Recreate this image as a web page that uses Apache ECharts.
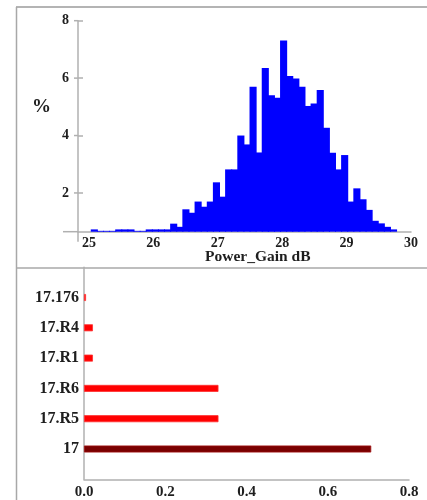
<!DOCTYPE html>
<html><head><meta charset="utf-8">
<script src="https://cdn.jsdelivr.net/npm/echarts@6/dist/echarts.min.js"></script>
<style>html,body{margin:0;padding:0;background:#fff}#c{width:427px;height:500px}</style>
</head><body><div id="c"></div>
<script>
// ---- Data ----
// Histogram (Power_Gain dB), 50 bins
const histBinStart = 25.036;
const histBinWidth = 0.0948;
const histValues = [0.73,0.68,0.68,0.68,0.73,0.73,0.73,0.68,0.68,0.73,0.73,0.73,0.73,
  0.93,0.82,1.43,1.31,1.70,1.52,1.70,2.37,1.87,
  2.82,2.82,4.00,3.69,5.70,3.41,6.35,5.40,5.32,
  7.31,6.07,5.99,5.70,5.03,5.12,5.59,4.27,3.40,
  2.82,3.32,1.70,2.16,1.78,1.41,1.03,0.94,0.82,0.73];
const histXTicks = [25,26,27,28,29,30];
const histYTicks = [2,4,6,8];
// Horizontal bar chart
const barCategories = ['17','17.R5','17.R6','17.R1','17.R4','17.176'];
const barValues = [0.707,0.331,0.331,0.022,0.022,0.005];
const barXTicks = [0.0,0.2,0.4,0.6,0.8];

// ---- Chart ----
const FONT = '"Liberation Serif", "DejaVu Serif", serif';
const TXT = '#1e1e1e';
const AX = '#b0b0b0';
const xMin = 24.83, xMax = 30, yMin = 0.65, yMax = 8;

const histData = histValues.map((v,i)=>[histBinStart+i*histBinWidth, histBinStart+(i+1)*histBinWidth, v]);

const chart = echarts.init(document.getElementById('c'), null, {renderer:'canvas'});
const option = {
  animation:false,
  backgroundColor:'#fff',
  grid:[
    {left:78, right:16, top:20.7, bottom:268.3},
    {left:84, right:18, top:267.2, bottom:20.7}
  ],
  xAxis:[
    {type:'value', gridIndex:0, min:xMin, max:xMax,
     splitLine:{show:false},
     axisLine:{show:true, lineStyle:{color:AX, width:1.5}},
     axisTick:{show:false},
     axisLabel:{customValues:histXTicks, formatter:v=>String(Math.round(v)), margin:5,
       fontFamily:FONT, fontWeight:'bold', fontSize:14, color:TXT}},
    {type:'value', gridIndex:1, min:0, max:0.8, interval:0.2,
     splitLine:{show:false},
     axisLine:{show:true, lineStyle:{color:AX, width:1.5}},
     axisTick:{show:false},
     axisLabel:{formatter:v=>v.toFixed(1), margin:5,
       fontFamily:FONT, fontWeight:'bold', fontSize:15, color:TXT}}
  ],
  yAxis:[
    {type:'value', gridIndex:0, min:yMin, max:yMax,
     splitLine:{show:false},
     axisLine:{show:true, lineStyle:{color:AX, width:1.5}},
     axisTick:{show:true, inside:true, length:5, customValues:histYTicks, lineStyle:{color:AX, width:1.5}},
     axisLabel:{customValues:histYTicks, margin:9,
       fontFamily:FONT, fontWeight:'bold', fontSize:14, color:TXT}},
    {type:'category', gridIndex:1, boundaryGap:false,
     data:[''].concat(barCategories).concat(['']),
     splitLine:{show:false},
     axisLine:{show:true, lineStyle:{color:AX, width:1.5}},
     axisTick:{show:false},
     axisLabel:{margin:5, fontFamily:FONT, fontWeight:'bold', fontSize:16, color:TXT}}
  ],
  series:[
    {type:'custom', xAxisIndex:0, yAxisIndex:0,
     encode:{x:[0,1], y:2},
     data:histData,
     renderItem:function(params, api){
       const p0 = api.coord([api.value(0), api.value(2)]);
       const p1 = api.coord([api.value(1), yMin]);
       return {type:'rect',
         shape:{x:p0[0]-0.5, y:p0[1], width:p1[0]-p0[0]+1, height:p1[1]-p0[1]},
         style:{fill:'#0000ff', stroke:null, lineWidth:0}};
     }},
    {type:'bar', xAxisIndex:1, yAxisIndex:1, barWidth:7,
     data:[null].concat(barValues.map((v,i)=>({value:v,
        itemStyle:{color: i===0 ? '#7a0000' : '#ff0000',
                   borderColor: i===0 ? '#a01010' : '#ff3030', borderWidth:0.8}}))).concat([null])}
  ],
  graphic:[
    {type:'line', shape:{x1:16, y1:7, x2:427, y2:7}, style:{stroke:'#b4b4b4', lineWidth:2}},
    {type:'line', shape:{x1:16.5, y1:7, x2:16.5, y2:500}, style:{stroke:'#a8a8a8', lineWidth:1.5}},
    {type:'line', shape:{x1:16, y1:268, x2:427, y2:268}, style:{stroke:'#a8a8a8', lineWidth:1.5}},
    {type:'text', left:32, top:98, style:{text:'%', font:'bold 19px '+FONT, fill:TXT}},
    {type:'text', left:205, top:249, style:{text:'Power_Gain dB', font:'bold 15.5px '+FONT, fill:TXT}}
  ]
};
chart.setOption(option);
// axis-line extensions past the crossing point of the histogram axes, and tick stubs left of the y axis
const origin = chart.convertToPixel({gridIndex:0}, [xMin, yMin]);
const extra = [
  {type:'line', shape:{x1:origin[0]-15, y1:origin[1], x2:origin[0], y2:origin[1]}, style:{stroke:AX, lineWidth:1.5}},
  {type:'line', shape:{x1:origin[0], y1:origin[1], x2:origin[0], y2:origin[1]+10}, style:{stroke:AX, lineWidth:1.5}}
];
histYTicks.forEach(t=>{
  const p = chart.convertToPixel({gridIndex:0}, [xMin, t]);
  extra.push({type:'line', shape:{x1:p[0]-4, y1:p[1], x2:p[0], y2:p[1]}, style:{stroke:AX, lineWidth:1.5}});
});
chart.setOption({graphic: option.graphic.concat(extra)});
</script></body></html>
